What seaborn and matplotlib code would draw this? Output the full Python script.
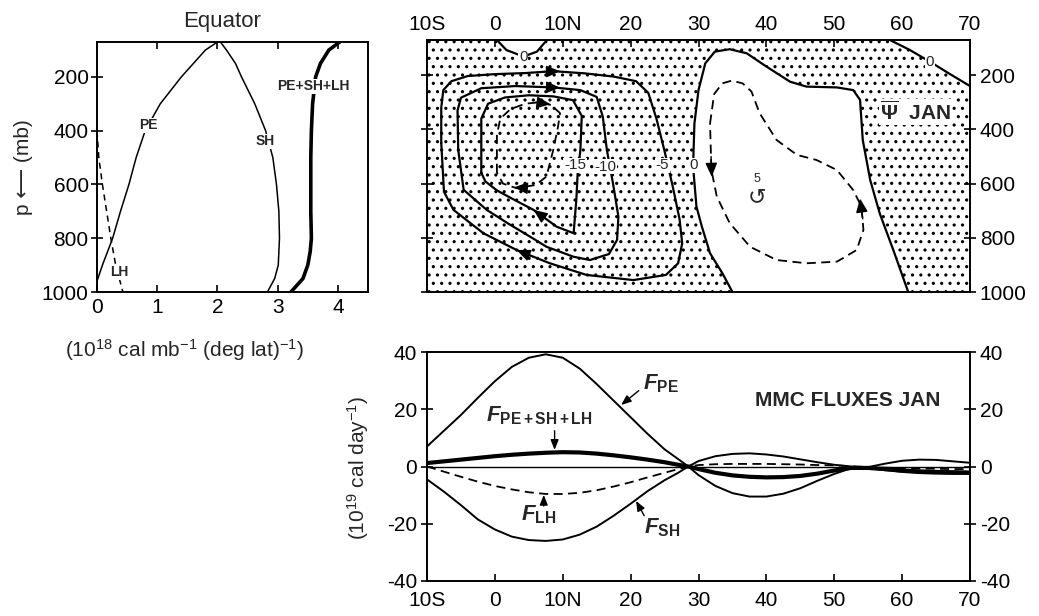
import matplotlib
matplotlib.use("Agg")
import matplotlib.pyplot as plt
import seaborn as sns

# ---------------- Left panel: Equator profiles (10^18 cal mb^-1 (deg lat)^-1)
pe_p = [1000, 960, 900, 800, 700, 600, 500, 400, 300, 200, 150, 100, 70]
pe_x = [-0.03, 0.0, 0.09, 0.26, 0.39, 0.53, 0.65, 0.80, 1.05, 1.40, 1.60, 1.80, 2.00]
sh_p = [70, 100, 150, 200, 300, 400, 500, 600, 700, 800, 900, 950, 1000]
sh_x = [2.05, 2.15, 2.30, 2.40, 2.62, 2.80, 2.92, 2.98, 3.02, 3.03, 3.01, 2.95, 2.83]
lh_p = [400, 500, 600, 700, 800, 900, 1000]
lh_x = [0.00, 0.03, 0.09, 0.16, 0.23, 0.31, 0.43]
tot_p = [70, 100, 150, 200, 300, 400, 500, 600, 700, 800, 850, 900, 950, 1000]
tot_x = [4.03, 3.85, 3.71, 3.63, 3.58, 3.56, 3.55, 3.55, 3.55, 3.56, 3.54, 3.50, 3.42, 3.22]

lat_ticks = [-10, 0, 10, 20, 30, 40, 50, 60, 70]
lat_labels = ["10S", "0", "10N", "20", "30", "40", "50", "60", "70"]
p_ticks = [200, 400, 600, 800, 1000]

psi_m5_lat = [-7.9, -7.9, -7.6, -6.4, -4.0, 0.0, 4.5, 8.6, 13.2, 17.5, 20.8, 22.6, 23.8,
              25.0, 26.2, 27.2, 27.6, 27.0, 25.2, 20.4, 13.5, 8.1, 3.2, -1.7, -6.1, -7.5, -7.9]
psi_m5_p = [450, 320, 255, 222, 203, 196, 192, 185, 193, 205, 222, 265, 360,
            480, 610, 730, 820, 894, 937, 956, 937, 894, 845, 783, 697, 630, 450]
psi_m10_lat = [-5.4, -5.5, -5.0, -2.0, 3.0, 8.6, 12.6, 15.0, 15.9, 16.5, 17.4, 18.2, 18.0,
               16.8, 14.0, 11.6, 7.6, 5.2, 2.0, -1.2, -4.6, -5.4]
psi_m10_p = [476, 330, 283, 248, 240, 245, 255, 280, 353, 476, 599, 722, 808,
             860, 882, 870, 833, 796, 748, 697, 623, 476]
psi_m15_lat = [-2.0, -2.0, -1.0, 1.5, 5.0, 8.6, 11.5, 12.8, 12.6, 12.2, 12.0, 11.6,
               9.1, 5.7, 2.5, 0.3, -1.4, -2.0]
psi_m15_p = [560, 360, 305, 282, 274, 278, 292, 350, 476, 560, 660, 783,
             759, 697, 655, 625, 592, 560]
psi_m20_lat = [0.3, 0.3, 0.8, 2.3, 4.5, 6.5, 8.3, 9.6, 9.3, 8.6, 7.6, 6.0, 3.2, 1.2, 0.3]
psi_m20_p = [560, 420, 360, 325, 305, 300, 310, 340, 390, 476, 574, 605, 617, 600, 560]
psi_0_ferrel_lat = [35.0, 33.5, 31.7, 30.5, 29.7, 29.2, 29.4, 30.0, 31.0, 32.4, 34.6, 37.1,
                    40.0, 43.5, 45.9, 50.4, 52.8, 53.8, 54.2, 55.3, 56.7, 58.7, 60.9]
psi_0_ferrel_p = [1000, 930, 857, 759, 685, 537, 378, 255, 156, 113, 104, 119,
                  168, 224, 242, 245, 255, 291, 439, 587, 710, 845, 1000]
psi_p5_lat = [31.7, 32.3, 33.5, 34.9, 36.5, 37.8, 39.0, 41.5, 44.5, 47.4, 50.4, 52.8, 54.0,
              54.3, 53.3, 50.4, 45.9, 41.5, 37.6, 34.6, 32.7, 31.9, 31.7]
psi_p5_p = [378, 270, 230, 220, 230, 260, 340, 439, 494, 513, 550, 624, 685,
            771, 845, 888, 894, 882, 833, 746, 648, 550, 378]
psi_0_tl_lat = [0.3, 1.7, 4.2, 6.2, 7.6]
psi_0_tl_p = [70, 107, 131, 113, 72]
psi_0_tr_lat = [58.2, 61.0, 64.1, 67.0, 70.0]
psi_0_tr_p = [70, 105, 150, 195, 240]
# flow-direction arrowheads on the cells (from -> to)
cell_arrows = [(7.0, 187, 9.6, 185), (7.0, 244, 9.6, 246), (6.0, 300, 8.2, 307),
               (5.6, 870, 3.2, 845), (7.5, 730, 5.7, 697), (4.8, 617, 2.8, 614),
               (31.85, 500, 31.95, 575), (54.2, 730, 53.8, 655)]

# ---------------- Bottom: MMC fluxes, January (10^19 cal day^-1)
flux_lat = [-10, -7.5, -5, -2.5, 0, 2.5, 5, 7.5, 10, 12.5, 15, 17.5, 20, 22.5, 25, 27, 28.5,
            30, 32.5, 35, 37.5, 40, 42.5, 45, 47.5, 50, 52.5, 55, 57.5, 60, 62.5, 65, 67.5, 70]
f_pe = [7.0, 12.5, 18.0, 24.0, 29.8, 34.8, 38.0, 39.2, 38.0, 34.2, 28.8, 23.0, 17.2, 11.4,
        6.0, 2.6, 0.0, -3.0, -6.8, -9.3, -10.5, -10.5, -9.5, -7.6, -5.0, -2.6, -0.6, -0.2,
        1.0, 2.0, 2.4, 2.3, 1.8, 1.3]
f_sh = [-4.5, -8.8, -13.5, -18.5, -22.0, -24.5, -25.7, -26.0, -25.5, -23.8, -21.0, -17.2,
        -13.0, -8.6, -4.8, -2.2, 0.0, 1.9, 3.6, 4.4, 4.6, 4.2, 3.5, 2.5, 1.5, 0.6, 0.0,
        -0.6, -1.3, -1.9, -2.3, -2.5, -2.6, -2.6]
f_lh = [0.0, -1.8, -3.6, -5.3, -6.8, -8.0, -9.0, -9.6, -9.6, -9.2, -8.3, -7.0, -5.5, -3.8,
        -2.2, -0.9, 0.0, 0.5, 0.8, 0.9, 0.9, 0.9, 0.8, 0.7, 0.5, 0.4, 0.1, -0.2, -0.4, -0.6,
        -0.7, -0.8, -0.9, -0.9]
f_tot = [1.2, 1.8, 2.4, 3.0, 3.6, 4.1, 4.5, 4.8, 5.0, 4.9, 4.5, 3.9, 3.2, 2.4, 1.5, 0.6, 0.0,
         -0.9, -2.2, -3.1, -3.6, -3.8, -3.7, -3.3, -2.5, -1.4, -0.5, -0.5, -0.9, -1.4, -1.7,
         -1.9, -2.0, -2.1]
flux_ticks = [-40, -20, 0, 20, 40]

# ---------------- style
sns.set_theme(style="ticks")
plt.rcParams.update({
    "font.family": ["Liberation Sans", "DejaVu Sans"],
    "mathtext.fontset": "custom",
    "mathtext.rm": "Liberation Sans",
    "mathtext.it": "Liberation Sans:italic",
    "mathtext.bf": "Liberation Sans:bold",
    "axes.unicode_minus": False,
    "axes.linewidth": 1.4,
    "axes.edgecolor": "black",
    "axes.facecolor": "white",
    "xtick.color": "black",
    "ytick.color": "black",
    "xtick.labelsize": 15,
    "ytick.labelsize": 15,
    "hatch.linewidth": 1.1,
    "hatch.color": "black",
})

W, H = 1039, 616
fig = plt.figure(figsize=(W / 100, H / 100), dpi=100)
ax1 = fig.add_axes([97 / W, 1 - 292 / H, 271 / W, 250 / H])
ax2 = fig.add_axes([427 / W, 1 - 292 / H, 543 / W, 252 / H])
ax3 = fig.add_axes([427 / W, 1 - 581 / H, 543 / W, 229 / H])


def draw(ax, x, y, lw=1.1, ls="-", z=3):
    sns.lineplot(x=x, y=y, ax=ax, sort=False, estimator=None, color="black",
                 linewidth=lw, linestyle=ls, legend=False, zorder=z)


white_box = dict(boxstyle="square,pad=0.05", fc="white", ec="none")

# ---------------- Left panel
draw(ax1, pe_x, pe_p)
draw(ax1, sh_x, sh_p)
draw(ax1, lh_x, lh_p, ls=(0, (4, 3)))
draw(ax1, tot_x, tot_p, lw=2.6)
ax1.set_xlim(0, 4.5)
ax1.set_ylim(1000, 70)
ax1.set_xticks([0, 1, 2, 3, 4])
ax1.set_xticklabels(["0", "1", "2", "3", "4"])
ax1.set_yticks(p_ticks)
ax1.set_yticklabels([str(v) for v in p_ticks])
ax1.tick_params(axis="x", direction="in", length=5, width=1.2, top=True, pad=4)
ax1.tick_params(axis="y", direction="inout", length=8, width=1.2, pad=2)
ax1.set_xlabel("")
ax1.set_ylabel("p ⟵ (mb)", fontsize=15, labelpad=6)
for txt, x, y in [("PE", 0.85, 380), ("SH", 2.8, 440), ("PE+SH+LH", 3.6, 235), ("LH", 0.37, 925)]:
    ax1.text(x, y, txt, fontsize=10, fontweight="bold", ha="center", va="center",
             bbox=white_box, zorder=5)
fig.text(222 / W, 1 - 21 / H, "Equator", fontsize=16, ha="center", va="center")
fig.text(185 / W, 1 - 350 / H, r"(10$^{18}$ cal mb$^{-1}$ (deg lat)$^{-1}$)",
         fontsize=15, ha="center", va="center")

# ---------------- Top right: streamfunction
ax2.fill_between([-10, 70], 70, 1000, facecolor="white", edgecolor="black",
                 hatch="..", linewidth=0, zorder=0.5)
ax2.fill(psi_0_ferrel_lat, psi_0_ferrel_p, color="white", zorder=1, lw=0)
ax2.fill(psi_0_tl_lat, psi_0_tl_p, color="white", zorder=1, lw=0)
ax2.fill(psi_0_tr_lat + [70.0], psi_0_tr_p + [70], color="white", zorder=1, lw=0)
for la, pp in [(psi_m5_lat, psi_m5_p), (psi_m10_lat, psi_m10_p), (psi_m15_lat, psi_m15_p),
               (psi_0_ferrel_lat, psi_0_ferrel_p), (psi_0_tl_lat, psi_0_tl_p),
               (psi_0_tr_lat, psi_0_tr_p)]:
    draw(ax2, la, pp, lw=1.6)
draw(ax2, psi_m20_lat, psi_m20_p, lw=1.3, ls=(0, (5, 3)))
draw(ax2, psi_p5_lat, psi_p5_p, lw=1.3, ls=(0, (5, 3)))
for a0, b0, a1, b1 in cell_arrows:
    ax2.annotate("", xy=(a1, b1), xytext=(a0, b0),
                 arrowprops=dict(arrowstyle="-|>,head_length=0.7,head_width=0.3",
                                 color="black", lw=1.0, shrinkA=0, shrinkB=0), zorder=4)
for txt, x, y in [("-15", 11.8, 533), ("-10", 16.3, 537), ("-5", 24.7, 533), ("0", 29.3, 533),
                  ("0", 4.2, 132), ("0", 64.1, 150)]:
    ax2.text(x, y, txt, fontsize=11, ha="center", va="center", bbox=white_box, zorder=5)
ax2.text(38.6, 583, "5", fontsize=9, ha="center", va="center", zorder=5)
ax2.text(38.6, 650, "↺", fontsize=16, ha="center", va="center", family=["DejaVu Sans"], zorder=5)
ax2.text(62.0, 335, r"$\overline{\mathbf{\Psi}}$  JAN", fontsize=15, fontweight="bold",
         ha="center", va="center", bbox=white_box, zorder=5)
ax2.set_xlim(-10, 70)
ax2.set_ylim(1000, 70)
ax2.xaxis.tick_top()
ax2.yaxis.tick_right()
ax2.set_xticks(lat_ticks)
ax2.set_xticklabels(lat_labels)
ax2.set_yticks(p_ticks)
ax2.set_yticklabels([str(v) for v in p_ticks])
ax2.tick_params(axis="x", direction="in", length=5, width=1.2, top=True, bottom=False,
                labeltop=True, labelbottom=False, pad=4)
ax2.tick_params(axis="y", direction="inout", length=8, width=1.2, left=True, right=True,
                labelleft=False, labelright=True, pad=3)
ax2.set_xlabel("")
ax2.set_ylabel("")

# ---------------- Bottom: fluxes
ax3.axhline(0, color="black", lw=1.0, zorder=2)
draw(ax3, flux_lat, f_pe, lw=1.4)
draw(ax3, flux_lat, f_sh, lw=1.4)
draw(ax3, flux_lat, f_lh, lw=1.3, ls=(0, (5, 3)))
draw(ax3, flux_lat, f_tot, lw=3.0)
arrow_kw = dict(arrowstyle="-|>,head_length=0.5,head_width=0.2", color="black", lw=1.0,
                shrinkA=0, shrinkB=0)
ax3.annotate("", xy=(18.6, 21.5), xytext=(21.2, 26.5), arrowprops=arrow_kw)
ax3.annotate("", xy=(8.8, 5.8), xytext=(8.8, 12.5), arrowprops=arrow_kw)
ax3.annotate("", xy=(7.2, -9.9), xytext=(7.2, -13.8), arrowprops=arrow_kw)
ax3.annotate("", xy=(20.8, -12.0), xytext=(22.0, -17.2), arrowprops=arrow_kw)
ax3.text(21.8, 29.0, r"F$_{\mathbf{PE}}$", fontsize=16, fontstyle="italic",
         fontweight="bold", ha="left", va="center")
ax3.text(6.6, 17.6, r"F$_{\mathbf{PE+SH+LH}}$", fontsize=16, fontstyle="italic",
         fontweight="bold", ha="center", va="center")
ax3.text(6.4, -16.8, r"F$_{\mathbf{LH}}$", fontsize=16, fontstyle="italic",
         fontweight="bold", ha="center", va="center")
ax3.text(22.0, -21.5, r"F$_{\mathbf{SH}}$", fontsize=16, fontstyle="italic",
         fontweight="bold", ha="left", va="center")
ax3.text(52.0, 23.0, "MMC FLUXES JAN", fontsize=15, fontweight="bold", ha="center", va="center")
ax3.set_xlim(-10, 70)
ax3.set_ylim(-40, 40)
ax3.set_xticks(lat_ticks)
ax3.set_xticklabels(lat_labels)
ax3.set_yticks(flux_ticks)
ax3.set_yticklabels([str(v) for v in flux_ticks])
ax3.tick_params(axis="x", direction="in", length=5, width=1.2, pad=7)
ax3.tick_params(axis="y", direction="inout", length=8, width=1.2, left=True, right=True,
                labelleft=True, labelright=True, pad=3)
ax3.set_xlabel("")
ax3.set_ylabel("")
fig.text(358 / W, 1 - 468 / H, r"(10$^{19}$ cal day$^{-1}$)", fontsize=15, rotation=90,
         ha="center", va="center")

fig.savefig("out.png", dpi=100)
